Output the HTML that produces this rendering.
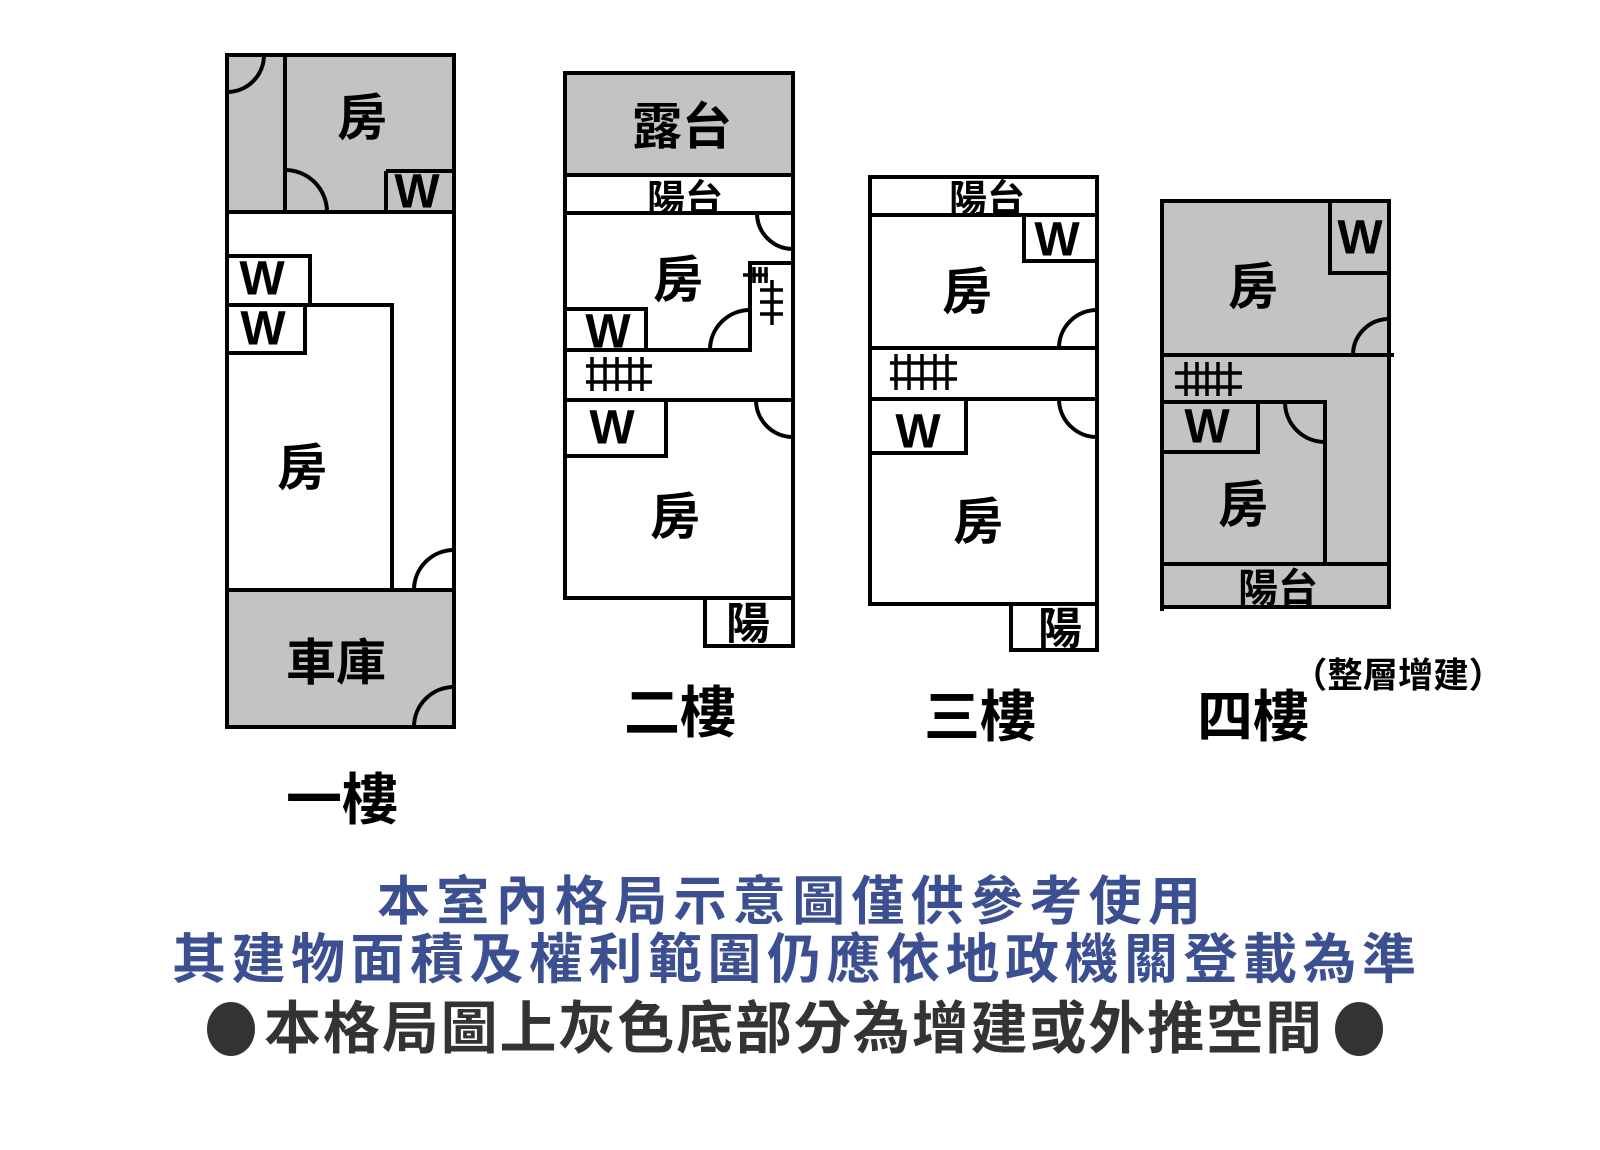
<!DOCTYPE html>
<html><head><meta charset="utf-8">
<style>
html,body{margin:0;padding:0;background:#fff;}
svg{display:block;}
.t{font-family:"Liberation Sans","Noto Sans CJK TC",sans-serif;font-weight:bold;fill:#000;}
.b{font-family:"Liberation Sans","Noto Sans CJK TC",sans-serif;font-weight:bold;}
</style></head><body>
<svg width="1600" height="1150" viewBox="0 0 1600 1150" xmlns="http://www.w3.org/2000/svg">
<defs>
<clipPath id="c2"><rect x="567" y="177" width="224" height="34"/></clipPath>
<clipPath id="c3"><rect x="872" y="179" width="223" height="34"/></clipPath>
<clipPath id="c4"><rect x="1164" y="566" width="223" height="39"/></clipPath>
</defs>
<rect width="1600" height="1150" fill="#fff"/>

<!-- gray fills -->
<g fill="#c3c3c3">
<rect x="227" y="55" width="227" height="157"/>
<rect x="227" y="590" width="227" height="137"/>
<rect x="565" y="73" width="228" height="102"/>
<rect x="1162" y="201" width="227" height="406"/>
</g>

<!-- Floor 1 -->
<g fill="none" stroke="#000" stroke-width="4">
<rect x="227" y="55" width="227" height="672"/>
<path d="M227,212 H454 M285,55 V212 M386,171 H454 M386,171 V212 M227,256 H310 V305 M227,305 H392 V590 M305,305 V353 H227 M227,590 H454"/>
<path d="M227,92 A37,37 0 0 0 264,55 M285,170 A42,42 0 0 1 327,212 M414,590 A40,40 0 0 1 454,550 M414,727 A40,40 0 0 1 454,687"/>
</g>

<!-- Floor 2 -->
<g fill="none" stroke="#000" stroke-width="4">
<rect x="565" y="73" width="228" height="525"/>
<path d="M565,175 H793 M565,213 H793 M565,309 H646 V350 M565,350 H750 V263 H793 M565,400 H793 M666,400 V456 H565 M705,598 V646 H793 V598"/>
<path d="M757,213 A36,36 0 0 0 793,249 M710,350 A40,40 0 0 1 750,310 M756,400 A37,37 0 0 0 793,437"/>
</g>
<g fill="none" stroke="#000" stroke-width="3.5">
<path d="M743,275 H768 M754,267 V283 M760,267 V283 M766,267 V283 M772,280 V325 M760,290 H783 M760,302 H783 M760,314 H783"/>
<path d="M586,366 H652 M586,382 H652 M592,357 V391 M605,357 V391 M617,357 V391 M630,357 V391 M642,357 V391"/>
</g>

<!-- Floor 3 -->
<g fill="none" stroke="#000" stroke-width="4">
<rect x="870" y="177" width="227" height="427"/>
<path d="M870,215 H1097 M1024,215 V261 H1097 M870,348 H1097 M870,399 H1097 M966,399 V453 H870 M1011,604 V650 H1097 V604"/>
<path d="M1059,348 A38,38 0 0 1 1097,310 M1059,399 A38,38 0 0 0 1097,437"/>
</g>
<g fill="none" stroke="#000" stroke-width="3.5">
<path d="M890,363 H957 M890,379 H957 M896,354 V390 M909,354 V390 M922,354 V390 M935,354 V390 M947,354 V390"/>
</g>

<!-- Floor 4 -->
<g fill="none" stroke="#000" stroke-width="4">
<rect x="1162" y="201" width="227" height="406"/>
<path d="M1330,201 V273 H1389 M1162,355 H1394 M1162,402 H1325 V564 M1258,402 V452 H1162 M1162,564 H1389 M1162,607 V611"/>
<path d="M1353,355 A36,36 0 0 1 1389,319 M1285,402 A40,40 0 0 0 1325,442"/>
</g>
<g fill="none" stroke="#000" stroke-width="3.5">
<path d="M1175,373 H1242 M1175,387 H1242 M1186,362 V396 M1197,362 V396 M1207,362 V396 M1218,362 V396 M1230,362 V396"/>
</g>

<!-- Labels -->
<g class="t" text-anchor="middle" dominant-baseline="central">
<!-- F1 -->
<text x="362" y="118" font-size="50">房</text>
<text x="417" y="192" font-size="48">W</text>
<text x="262" y="279" font-size="48">W</text>
<text x="263" y="329" font-size="48">W</text>
<text x="302" y="468" font-size="50">房</text>
<text x="336" y="663" font-size="50">車庫</text>
<text x="342" y="800" font-size="56">一樓</text>
<!-- F2 -->
<text x="682" y="127" font-size="50">露台</text>
<text x="685" y="200" font-size="38" clip-path="url(#c2)">陽台</text>
<text x="678" y="280" font-size="50">房</text>
<text x="608" y="332" font-size="48">W</text>
<text x="612" y="428" font-size="48">W</text>
<text x="675" y="517" font-size="50">房</text>
<text x="748" y="624" font-size="44">陽</text>
<text x="680" y="713" font-size="56">二樓</text>
<!-- F3 -->
<text x="987" y="200" font-size="38" clip-path="url(#c3)">陽台</text>
<text x="1057" y="240" font-size="48">W</text>
<text x="967" y="292" font-size="50">房</text>
<text x="918" y="432" font-size="48">W</text>
<text x="978" y="522" font-size="50">房</text>
<text x="1060" y="629" font-size="44">陽</text>
<text x="980" y="717" font-size="56">三樓</text>
<!-- F4 -->
<text x="1360" y="238" font-size="48">W</text>
<text x="1253" y="287" font-size="50">房</text>
<text x="1207" y="427" font-size="48">W</text>
<text x="1243" y="505" font-size="50">房</text>
<text x="1278" y="589" font-size="40" clip-path="url(#c4)">陽台</text>
<text x="1253" y="717" font-size="56">四樓</text>
</g>
<text class="t" x="1292" y="676" font-size="35" dominant-baseline="central" textLength="212" lengthAdjust="spacingAndGlyphs">（整層增建）</text>

<!-- Bottom notes -->
<g class="b" dominant-baseline="central">
<text x="377" y="902" font-size="53" fill="#3c4f91" textLength="824" lengthAdjust="spacing">本室內格局示意圖僅供參考使用</text>
<text x="172" y="960" font-size="54" fill="#3c4f91" textLength="1244" lengthAdjust="spacing">其建物面積及權利範圍仍應依地政機關登載為準</text>
<text x="264" y="1029" font-size="57" fill="#333333" textLength="1058" lengthAdjust="spacing">本格局圖上灰色底部分為增建或外推空間</text>
</g>
<ellipse cx="231" cy="1029" rx="24" ry="27" fill="#333333"/>
<ellipse cx="1359" cy="1029" rx="24" ry="27" fill="#333333"/>
</svg>
</body></html>
